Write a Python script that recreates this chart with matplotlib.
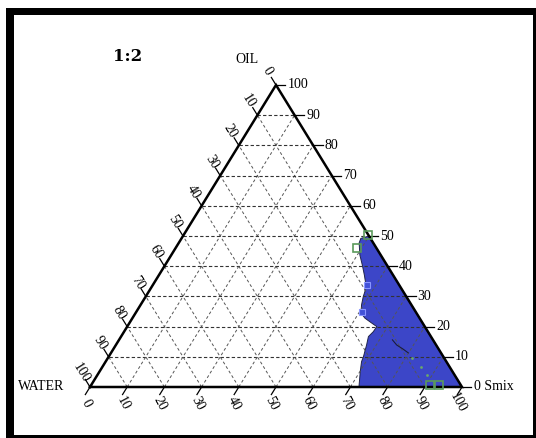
import matplotlib
matplotlib.use("Agg")
import matplotlib.pyplot as plt
from matplotlib.patches import Rectangle, Polygon

# Ternary components in percent: OIL (top), Smix (bottom right), WATER (bottom left)
ticks = [0, 10, 20, 30, 40, 50, 60, 70, 80, 90, 100]
tick_labels = [str(t) for t in ticks]

# Boundary of the microemulsion region (oil %, Smix %)
region_oil = [50.0, 49.2, 47.7, 43.7, 40.4, 37.1, 34.4, 31.6, 29.9, 27.2, 24.5,
              22.8, 21.2, 20.0, 18.3, 16.7, 13.9, 10.0, 8.4, 5.1, 0.0, 0.0]
region_smix = [50.0, 48.2, 48.5, 50.7, 53.0, 55.2, 56.9, 58.1, 58.5, 59.4, 60.6,
               62.5, 65.1, 67.1, 67.0, 66.5, 67.4, 68.5, 68.8, 70.1, 72.3, 100.0]

# Measured points
green_oil = [50.3, 45.9, 0.6, 0.6]
green_smix = [49.5, 48.7, 91.2, 93.6]
blue_oil = [33.8, 24.9]
blue_smix = [57.5, 60.7]
trace_oil = [15.6, 13.9, 12.6, 11.3]
trace_smix = [73.5, 75.5, 77.8, 79.9]
dot_oil = [9.6, 6.6, 4.0]
dot_smix = [81.8, 85.7, 88.6]


def xy(oil, smix):
    """Project ternary (oil, smix) to plot coordinates."""
    return smix + oil / 2.0, oil


W, H = 536, 438
fig = plt.figure(figsize=(W / 100, H / 100), dpi=100)
plt.rcParams['font.family'] = ['Liberation Serif', 'DejaVu Serif']

# Page frame: heavy black edge top/left, thin right/bottom
fig.add_artist(Rectangle((6 / W, 0), 1 - 6 / W, 1 - 8 / H, transform=fig.transFigure,
                         facecolor='black', edgecolor='none', zorder=0))
fig.add_artist(Rectangle((14 / W, 3 / H), (533 - 14) / W, (435 - 15) / H,
                         transform=fig.transFigure, facecolor='white',
                         edgecolor='none', zorder=0))

x0, x1, ytop, ybot = 90, 462, 85, 387
ax = fig.add_axes([x0 / W, (H - ybot) / H, (x1 - x0) / W, (ybot - ytop) / H])
ax.set_xlim(0, 100)
ax.set_ylim(0, 100)
ax.axis('off')
ax.patch.set_alpha(0)

# Region fill
pts = [xy(o, s) for o, s in zip(region_oil, region_smix)]
ax.add_patch(Polygon(pts, closed=True, facecolor='#3c46c8', edgecolor='#20244a',
                     linewidth=0.7, zorder=1))

# Grid lines every 10 %
for k in ticks[1:-1]:
    # constant oil (horizontal)
    a, b = xy(k, 0), xy(k, 100 - k)
    ax.plot([a[0], b[0]], [a[1], b[1]], color='#333333', lw=0.8,
            dashes=(3, 2), zorder=2)
    # constant smix (parallel to left edge)
    a, b = xy(0, k), xy(100 - k, k)
    ax.plot([a[0], b[0]], [a[1], b[1]], color='#555555', lw=0.7,
            dashes=(3, 2.5), zorder=2)
    # constant water (parallel to right edge)
    a, b = xy(0, 100 - k), xy(100 - k, 0)
    ax.plot([a[0], b[0]], [a[1], b[1]], color='#555555', lw=0.7,
            dashes=(3, 2.5), zorder=2)

# Triangle outline
tri = [xy(0, 0), xy(0, 100), xy(100, 0), xy(0, 0)]
ax.plot([p[0] for p in tri], [p[1] for p in tri], color='black', lw=1.8,
        zorder=4, solid_joinstyle='miter', clip_on=False)

# Markers and traces
for o, s in zip(green_oil, green_smix):
    p = xy(o, s)
    ax.plot(p[0], p[1], marker='s', ms=6, mfc='none', mec='#5b9a5b', mew=1.2,
            zorder=5, clip_on=False)
for o, s in zip(blue_oil, blue_smix):
    p = xy(o, s)
    ax.plot(p[0], p[1], marker='s', ms=4, mfc='#4252d8', mec='#8a96ff', mew=0.8,
            zorder=5)
tr = [xy(o, s) for o, s in zip(trace_oil, trace_smix)]
ax.plot([p[0] for p in tr], [p[1] for p in tr], color='#1a1d3a', lw=0.8, zorder=3)
for o, s in zip(dot_oil, dot_smix):
    p = xy(o, s)
    ax.plot(p[0], p[1], marker='o', ms=2, mfc='#6aa86a', mec='none', zorder=5)

fs = 10
d_tick = 2.5
for t, lab in zip(ticks, tick_labels):
    # right axis: oil
    a = xy(t, 100 - t)
    b = xy(t, 100 - t + d_tick)
    ax.plot([a[0], b[0]], [a[1], b[1]], color='black', lw=0.9, clip_on=False)
    c = xy(t, 100 - t + 3.1)
    txt = lab if t != 0 else '0 Smix'
    ax.text(c[0], c[1], txt, ha='left', va='center', fontsize=fs)
    # left axis: water
    a = xy(100 - t, 0)
    b = xy(100 - t + d_tick, -d_tick)
    ax.plot([a[0], b[0]], [a[1], b[1]], color='black', lw=0.9, clip_on=False)
    c = xy(100 - t + 4.6, -4.6)
    ax.text(c[0], c[1], lab, ha='center', va='center', fontsize=fs,
            rotation=-58, rotation_mode='anchor')
    # bottom axis: smix
    a = xy(0, t)
    b = xy(-d_tick, t)
    ax.plot([a[0], b[0]], [a[1], b[1]], color='black', lw=0.9, clip_on=False)
    c = xy(-5.3, t + 1.5)
    ax.text(c[0], c[1], lab, ha='center', va='center', fontsize=fs,
            rotation=-62, rotation_mode='anchor')

# Vertex captions and title
ax.text(xy(100, 0)[0] - 7.8, 108.3, 'OIL', ha='center', va='center', fontsize=fs)
ax.text(-6.8, 0, 'WATER', ha='right', va='center', fontsize=fs)
ax.text(10.2, 109.6, '1:2', ha='center', va='center', fontsize=12,
        fontweight='bold', family=['DejaVu Serif'])

fig.savefig('out.png', dpi=100)
